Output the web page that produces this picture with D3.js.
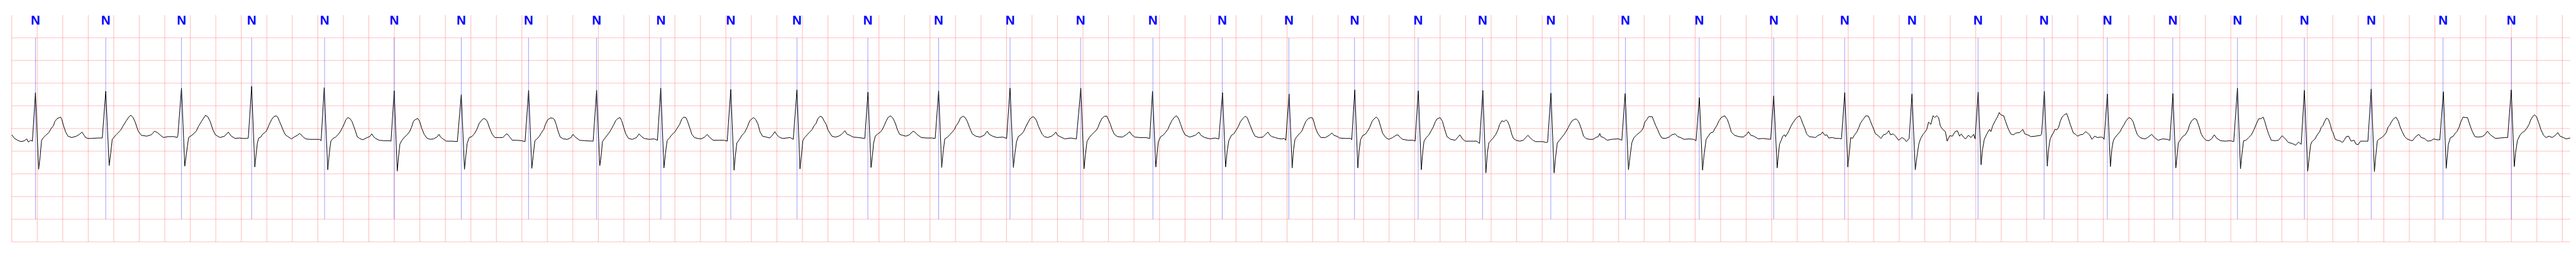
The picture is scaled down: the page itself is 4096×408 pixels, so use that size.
<!DOCTYPE html>
<html>
<head>
<meta charset="utf-8">
<script src="https://cdn.jsdelivr.net/npm/d3@7"></script>
<style>
html,body{margin:0;padding:0;background:#fff;overflow:hidden;}
svg{display:block;}
</style>
</head>
<body>
<svg id="chart" width="4096" height="408"></svg>
<script>
// ---- data (time in s, amplitude in mV) ----
const beatTimes = [0.186,0.737,1.331,1.881,2.453,2.999,3.525,4.052,4.586,5.090,5.638,6.157,6.713,7.268,7.828,8.381,8.948,9.492,10.014,10.529,11.028,11.533,12.068,12.653,13.232,13.816,14.372,14.900,15.418,15.936,16.432,16.945,17.452,17.977,18.501,19.064,19.600];
const beatLabels = beatTimes.map(() => "N");

const ecgT = [
0.000,0.022,0.052,0.076,0.100,0.118,0.130,0.148,0.162,0.186,0.211,0.222,0.234,0.249,0.267,0.291,0.309,0.327,0.339,0.357,0.383,0.393,0.405,0.423,0.441,0.471,0.507,0.531,0.551,0.567,0.579,0.597,0.627,0.674,0.710,
0.737,0.764,0.776,0.788,0.818,0.854,0.872,0.896,0.920,0.934,0.950,0.968,0.992,1.016,1.058,1.094,1.120,1.142,1.166,1.190,1.225,1.273,1.297,1.303,
1.331,1.357,1.371,1.387,1.417,1.447,1.465,1.489,1.519,1.537,1.555,1.579,1.597,1.633,1.669,1.698,1.722,1.752,1.786,1.812,1.839,1.855,
1.881,1.906,1.917,1.926,1.937,1.953,1.966,1.979,1.993,2.006,2.019,2.039,2.055,2.073,2.086,2.099,2.117,2.133,2.146,2.166,2.193,2.220,2.240,2.257,2.270,2.286,2.306,2.333,2.373,2.413,2.426,
2.450,2.478,2.490,2.502,2.520,2.540,2.560,2.576,2.593,2.607,2.620,2.636,2.651,2.667,2.680,2.693,2.709,2.727,2.753,2.787,2.807,2.823,2.837,2.853,2.880,2.920,2.960,2.974,
2.999,3.023,3.034,3.044,3.060,3.080,3.100,3.120,3.134,3.150,3.167,3.184,3.198,3.214,3.234,3.254,3.280,3.307,3.334,3.350,3.363,3.381,3.407,3.454,3.494,
3.525,3.550,3.561,3.571,3.587,3.607,3.627,3.647,3.665,3.681,3.701,3.718,3.731,3.748,3.768,3.788,3.821,3.851,3.878,3.889,3.905,3.925,3.958,3.998,4.025,
4.053,4.078,4.089,4.102,4.118,4.138,4.152,4.172,4.185,4.202,4.222,4.239,4.255,4.269,4.285,4.301,4.325,4.359,4.385,4.401,4.419,4.452,4.492,4.559,
4.586,4.611,4.622,4.632,4.652,4.672,4.690,4.706,4.722,4.735,4.752,4.770,4.783,4.799,4.815,4.836,4.866,4.899,4.919,4.935,4.959,4.999,5.039,5.063,
5.089,5.114,5.126,5.139,5.159,5.179,5.199,5.219,5.237,5.253,5.269,5.286,5.299,5.317,5.333,5.353,5.380,5.406,5.433,5.453,5.470,5.500,5.546,5.586,5.610,
5.638,5.664,5.674,5.686,5.706,5.726,5.746,5.766,5.787,5.803,5.817,5.833,5.851,5.867,5.887,5.917,5.944,5.964,5.984,5.997,6.017,6.044,6.077,6.104,6.128,
6.157,6.181,6.192,6.203,6.217,6.237,6.257,6.277,6.291,6.307,6.320,6.338,6.355,6.371,6.387,6.398,6.415,6.431,6.458,6.484,6.507,6.534,6.547,6.571,6.598,6.638,6.689,
6.714,6.738,6.749,6.758,6.771,6.791,6.811,6.825,6.841,6.854,6.871,6.891,6.911,6.929,6.945,6.962,6.985,7.011,7.038,7.068,7.082,7.098,7.132,7.172,7.212,7.241,
7.268,7.292,7.302,7.316,7.338,7.358,7.378,7.392,7.405,7.425,7.438,7.459,7.476,7.492,7.512,7.532,7.559,7.592,7.625,7.649,7.665,7.692,7.725,7.772,7.801,
7.828,7.854,7.866,7.879,7.892,7.912,7.932,7.952,7.970,7.987,8.006,8.020,8.036,8.049,8.065,8.080,8.098,8.123,8.153,8.172,8.187,8.200,8.227,8.258,8.301,8.348,
8.383,8.408,8.418,8.431,8.449,8.467,8.486,8.504,8.517,8.529,8.548,8.569,8.587,8.603,8.615,8.628,8.646,8.671,8.708,8.738,8.766,8.782,8.806,8.843,8.892,8.923,
8.945,8.971,8.981,8.991,9.009,9.028,9.046,9.065,9.077,9.096,9.114,9.133,9.149,9.166,9.182,9.200,9.237,9.281,9.308,9.324,9.354,9.397,9.434,9.465,
9.494,9.518,9.531,9.543,9.564,9.582,9.601,9.619,9.634,9.654,9.671,9.687,9.708,9.730,9.749,9.779,9.810,9.835,9.850,9.866,9.882,9.906,9.930,9.954,9.978,9.990,
10.016,10.040,10.050,10.062,10.080,10.098,10.116,10.131,10.148,10.167,10.184,10.200,10.211,10.223,10.241,10.265,10.301,10.331,10.352,10.367,10.397,10.409,10.457,10.499,10.507,
10.531,10.555,10.565,10.577,10.595,10.613,10.631,10.649,10.667,10.685,10.700,10.717,10.735,10.750,10.774,10.798,10.828,10.855,10.870,10.888,10.906,10.948,10.990,11.004,
11.029,11.053,11.065,11.074,11.092,11.110,11.128,11.146,11.161,11.176,11.200,11.218,11.236,11.254,11.283,11.319,11.337,11.355,11.373,11.397,11.439,11.487,11.509,
11.535,11.559,11.571,11.583,11.601,11.619,11.637,11.655,11.667,11.685,11.702,11.716,11.730,11.744,11.752,11.762,11.775,11.796,11.824,11.852,11.872,11.889,11.904,11.928,11.949,11.976,12.004,12.032,12.043,
12.069,12.094,12.105,12.119,12.136,12.156,12.173,12.187,12.205,12.219,12.235,12.253,12.267,12.284,12.295,12.309,12.325,12.343,12.371,12.399,12.420,12.441,12.452,12.461,12.482,12.510,12.544,12.586,12.600,12.625,
12.651,12.677,12.690,12.704,12.718,12.738,12.759,12.780,12.794,12.805,12.822,12.835,12.863,12.877,12.891,12.905,12.921,12.939,12.967,12.995,13.016,13.043,13.064,13.085,13.113,13.154,13.189,13.207,
13.233,13.258,13.269,13.286,13.300,13.320,13.341,13.355,13.369,13.387,13.404,13.431,13.452,13.466,13.484,13.508,13.542,13.577,13.604,13.618,13.636,13.660,13.695,13.729,13.764,13.792,
13.816,13.843,13.852,13.862,13.873,13.887,13.901,13.908,13.922,13.935,13.949,13.963,13.973,13.987,13.998,14.019,14.032,14.046,14.060,14.074,14.095,14.122,14.143,14.164,14.185,14.199,14.217,14.233,14.247,14.275,14.303,14.330,14.347,
14.373,14.397,14.408,14.420,14.434,14.448,14.469,14.483,14.497,14.517,14.538,14.559,14.573,14.587,14.598,14.614,14.632,14.656,14.677,14.698,14.718,14.732,14.753,14.774,14.795,14.822,14.843,14.857,14.878,
14.900,14.926,14.940,14.954,14.968,14.989,15.002,15.016,15.030,15.048,15.065,15.079,15.093,15.109,15.123,15.141,15.162,15.176,15.196,15.217,15.238,15.256,15.273,15.286,15.307,15.321,15.342,15.363,15.383,15.395,
15.419,15.442,15.453,15.467,15.487,15.508,15.519,15.533,15.553,15.571,15.584,15.598,15.619,15.633,15.654,15.674,15.695,15.716,15.744,15.769,15.785,15.806,15.834,15.868,15.910,15.917,
15.938,15.961,15.970,15.978,15.985,15.999,16.009,16.020,16.035,16.049,16.063,16.077,16.094,16.113,16.127,16.141,16.155,16.165,16.184,16.198,16.219,16.240,16.262,16.276,16.293,16.311,16.333,16.354,16.382,16.397,16.407,
16.432,16.456,16.468,16.478,16.489,16.510,16.532,16.546,16.560,16.577,16.600,16.617,16.634,16.652,16.666,16.688,16.709,16.730,16.752,16.780,16.801,16.830,16.865,16.901,16.922,
16.946,16.969,16.979,16.989,17.000,17.022,17.043,17.064,17.078,17.093,17.114,17.131,17.149,17.168,17.185,17.206,17.227,17.249,17.270,17.291,17.320,17.355,17.398,17.423,
17.452,17.476,17.486,17.500,17.519,17.540,17.561,17.583,17.600,17.618,17.639,17.654,17.668,17.682,17.696,17.717,17.746,17.774,17.803,17.824,17.852,17.881,17.909,17.930,17.952,
17.977,18.003,18.016,18.026,18.037,18.058,18.080,18.097,18.108,18.122,18.136,18.151,18.166,18.180,18.192,18.200,18.219,18.238,18.262,18.275,18.293,18.306,18.324,18.343,18.367,18.380,18.398,18.417,18.448,18.475,
18.501,18.526,18.537,18.549,18.565,18.584,18.603,18.619,18.633,18.646,18.658,18.673,18.695,18.714,18.726,18.742,18.763,18.782,18.807,18.825,18.850,18.875,18.893,18.918,18.943,18.968,18.992,19.017,19.039,
19.067,19.089,19.097,19.106,19.122,19.141,19.159,19.175,19.190,19.203,19.221,19.240,19.256,19.271,19.283,19.296,19.314,19.339,19.370,19.388,19.413,19.432,19.450,19.475,19.512,19.549,19.571,
19.599,19.623,19.633,19.648,19.667,19.685,19.704,19.722,19.739,19.750,19.766,19.782,19.797,19.815,19.831,19.852,19.871,19.896,19.920,19.945,19.964,19.982,20.007,20.032,20.061
];
const ecgV = [
-0.14,-0.22,-0.27,-0.29,-0.27,-0.23,-0.30,-0.26,-0.28,0.79,-0.90,-0.64,-0.26,-0.20,-0.15,-0.09,0.00,0.06,0.16,0.22,0.25,0.20,0.07,-0.08,-0.17,-0.20,-0.17,-0.13,-0.08,-0.15,-0.20,-0.22,-0.22,-0.21,-0.21,
0.82,-0.82,-0.55,-0.24,-0.14,-0.04,0.05,0.16,0.26,0.29,0.25,0.14,-0.06,-0.15,-0.17,-0.14,-0.06,-0.09,-0.15,-0.20,-0.18,-0.18,-0.20,-0.15,
0.89,-0.83,-0.53,-0.20,-0.14,-0.06,0.05,0.16,0.29,0.26,0.16,-0.04,-0.14,-0.20,-0.17,-0.08,-0.17,-0.22,-0.21,-0.22,-0.22,-0.21,
0.93,-0.85,-0.55,-0.32,-0.21,-0.19,-0.13,-0.10,-0.07,0.00,0.09,0.20,0.26,0.28,0.25,0.16,0.04,-0.07,-0.14,-0.18,-0.23,-0.18,-0.15,-0.11,-0.14,-0.19,-0.23,-0.24,-0.24,-0.24,-0.27,
0.90,-0.91,-0.55,-0.28,-0.22,-0.19,-0.13,-0.07,0.02,0.10,0.19,0.24,0.22,0.16,0.06,-0.04,-0.18,-0.22,-0.25,-0.20,-0.18,-0.12,-0.18,-0.22,-0.26,-0.27,-0.27,-0.28,
0.83,-0.94,-0.60,-0.34,-0.26,-0.19,-0.14,-0.07,0.02,0.16,0.20,0.22,0.16,0.01,-0.13,-0.21,-0.24,-0.23,-0.19,-0.13,-0.19,-0.23,-0.28,-0.28,-0.29,
0.75,-0.90,-0.60,-0.33,-0.20,-0.18,-0.12,-0.02,0.11,0.17,0.22,0.20,0.14,0.00,-0.13,-0.20,-0.20,-0.20,-0.12,-0.13,-0.19,-0.26,-0.26,-0.27,-0.29,
0.84,-0.88,-0.60,-0.27,-0.23,-0.17,-0.10,-0.02,0.09,0.19,0.23,0.23,0.20,0.09,-0.07,-0.19,-0.23,-0.24,-0.20,-0.13,-0.19,-0.26,-0.27,-0.28,
0.84,-0.82,-0.60,-0.29,-0.21,-0.14,-0.07,0.01,0.09,0.17,0.22,0.24,0.17,0.02,-0.12,-0.22,-0.24,-0.20,-0.12,-0.17,-0.22,-0.24,-0.23,-0.26,
0.89,-0.87,-0.55,-0.27,-0.20,-0.13,-0.08,0.01,0.09,0.20,0.25,0.24,0.16,0.01,-0.13,-0.20,-0.22,-0.23,-0.19,-0.13,-0.19,-0.26,-0.26,-0.26,-0.28,
0.86,-0.92,-0.60,-0.32,-0.24,-0.15,-0.09,0.02,0.17,0.21,0.24,0.20,0.10,-0.07,-0.17,-0.19,-0.21,-0.15,-0.07,-0.13,-0.19,-0.22,-0.21,-0.20,-0.24,
0.85,-0.89,-0.60,-0.27,-0.20,-0.14,-0.08,-0.02,0.06,0.11,0.21,0.27,0.25,0.16,0.09,-0.02,-0.10,-0.17,-0.19,-0.17,-0.13,-0.05,-0.12,-0.15,-0.19,-0.20,-0.22,
0.80,-0.86,-0.60,-0.32,-0.17,-0.12,-0.08,-0.03,0.06,0.15,0.24,0.28,0.22,0.11,-0.03,-0.13,-0.15,-0.17,-0.14,-0.06,-0.08,-0.13,-0.20,-0.21,-0.21,-0.22,
0.83,-0.86,-0.55,-0.23,-0.19,-0.13,-0.07,-0.02,0.06,0.14,0.23,0.27,0.24,0.16,0.01,-0.12,-0.17,-0.19,-0.15,-0.06,-0.13,-0.17,-0.20,-0.19,-0.22,
0.89,-0.86,-0.55,-0.29,-0.18,-0.14,-0.08,0.04,0.14,0.22,0.26,0.24,0.17,0.06,-0.04,-0.13,-0.18,-0.20,-0.17,-0.13,-0.08,-0.15,-0.19,-0.23,-0.21,-0.23,
0.89,-0.89,-0.60,-0.29,-0.20,-0.14,-0.09,-0.04,0.02,0.11,0.22,0.27,0.27,0.17,0.09,-0.02,-0.13,-0.18,-0.19,-0.14,-0.07,-0.14,-0.19,-0.20,-0.20,-0.22,
0.82,-0.85,-0.55,-0.29,-0.18,-0.15,-0.09,-0.02,0.06,0.17,0.24,0.28,0.22,0.09,-0.04,-0.14,-0.19,-0.15,-0.08,-0.15,-0.20,-0.23,-0.21,-0.23,
0.79,-0.85,-0.49,-0.27,-0.15,-0.12,-0.04,0.05,0.15,0.22,0.27,0.24,0.09,-0.07,-0.17,-0.20,-0.19,-0.12,-0.08,-0.15,-0.18,-0.20,-0.22,-0.23,-0.22,-0.26,
0.76,-0.87,-0.49,-0.24,-0.17,-0.11,-0.06,0.05,0.16,0.22,0.24,0.23,0.14,0.01,-0.11,-0.20,-0.20,-0.15,-0.10,-0.15,-0.18,-0.21,-0.22,-0.22,-0.25,
0.85,-0.87,-0.49,-0.24,-0.15,-0.13,-0.06,0.03,0.16,0.22,0.25,0.20,0.03,-0.11,-0.20,-0.24,-0.20,-0.15,-0.14,-0.20,-0.24,-0.26,-0.26,-0.28,
0.83,-0.91,-0.49,-0.28,-0.20,-0.15,-0.06,0.03,0.14,0.21,0.24,0.16,-0.02,-0.18,-0.24,-0.26,-0.20,-0.14,-0.22,-0.28,-0.28,-0.28,-0.33,
0.84,-0.98,-0.53,-0.31,-0.26,-0.20,-0.13,-0.02,0.09,0.17,0.15,0.19,0.15,0.06,-0.02,-0.13,-0.22,-0.26,-0.28,-0.26,-0.20,-0.15,-0.20,-0.26,-0.29,-0.29,-0.29,-0.31,-0.30,
0.78,-0.98,-0.65,-0.32,-0.26,-0.19,-0.13,-0.07,0.02,0.10,0.17,0.20,0.21,0.16,0.09,-0.02,-0.17,-0.22,-0.24,-0.24,-0.20,-0.18,-0.11,-0.18,-0.20,-0.26,-0.24,-0.23,-0.23,-0.26,
0.77,-0.91,-0.60,-0.31,-0.21,-0.15,-0.10,-0.05,0.02,0.14,0.20,0.26,0.26,0.16,0.06,-0.02,-0.13,-0.21,-0.22,-0.19,-0.14,-0.12,-0.18,-0.20,-0.24,-0.23,-0.24,-0.27,
0.68,-0.92,-0.60,-0.24,-0.18,-0.10,-0.08,0.00,0.06,0.17,0.24,0.28,0.20,0.09,-0.08,-0.15,-0.18,-0.19,-0.13,-0.07,-0.15,-0.17,-0.23,-0.22,-0.23,-0.24,
0.72,-0.87,-0.60,-0.34,-0.27,-0.17,-0.14,-0.18,-0.12,-0.05,0.04,0.11,0.15,0.21,0.24,0.28,0.20,0.09,0.00,-0.12,-0.18,-0.19,-0.20,-0.15,-0.13,-0.08,-0.15,-0.14,-0.21,-0.20,-0.22,-0.22,-0.23,
0.79,-0.85,-0.55,-0.20,-0.22,-0.15,-0.07,0.02,0.12,0.20,0.28,0.27,0.17,0.07,0.00,-0.12,-0.15,-0.22,-0.14,-0.12,-0.05,-0.14,-0.12,-0.18,-0.26,-0.20,-0.24,-0.29,-0.22,
0.76,-0.91,-0.60,-0.34,-0.22,-0.12,-0.08,-0.02,0.14,0.09,0.28,0.24,0.28,0.24,0.05,-0.02,-0.07,-0.28,-0.16,-0.17,-0.07,-0.05,-0.17,-0.12,-0.20,-0.23,-0.15,-0.20,-0.13,-0.23,
0.80,-0.80,-0.47,-0.24,-0.12,-0.02,-0.07,0.06,0.17,0.26,0.35,0.30,0.28,0.16,0.00,-0.12,-0.14,-0.10,-0.09,-0.02,-0.12,-0.14,-0.18,-0.17,-0.15,-0.12,
0.82,-0.83,-0.50,-0.32,-0.22,-0.14,-0.10,-0.02,-0.03,0.02,0.16,0.25,0.30,0.33,0.22,0.09,-0.02,-0.10,-0.13,-0.17,-0.14,-0.13,-0.07,-0.10,-0.14,-0.24,-0.17,-0.20,-0.19,-0.20,-0.24,
0.76,-0.84,-0.44,-0.28,-0.21,-0.14,-0.07,0.01,0.07,0.16,0.24,0.22,0.15,-0.02,-0.13,-0.20,-0.22,-0.23,-0.19,-0.13,-0.20,-0.26,-0.23,-0.24,-0.26,
0.77,-0.87,-0.60,-0.31,-0.27,-0.18,-0.14,-0.04,0.09,0.17,0.22,0.20,0.06,-0.12,-0.20,-0.26,-0.27,-0.23,-0.14,-0.22,-0.27,-0.28,-0.27,-0.29,
0.89,-0.89,-0.60,-0.27,-0.26,-0.20,-0.14,-0.02,0.10,0.21,0.22,0.25,0.14,0.00,-0.12,-0.26,-0.27,-0.26,-0.16,-0.22,-0.31,-0.33,-0.37,-0.30,-0.35,
0.84,-0.94,-0.60,-0.36,-0.29,-0.24,-0.13,-0.07,0.02,0.06,0.16,0.23,0.20,0.09,-0.05,-0.08,-0.24,-0.26,-0.28,-0.31,-0.24,-0.18,-0.17,-0.28,-0.26,-0.34,-0.36,-0.28,-0.28,-0.28,
0.87,-0.95,-0.60,-0.27,-0.23,-0.20,-0.15,-0.09,0.03,0.07,0.14,0.20,0.25,0.16,0.05,-0.06,-0.18,-0.23,-0.26,-0.27,-0.18,-0.13,-0.20,-0.22,-0.28,-0.27,-0.23,-0.25,-0.25,
0.81,-0.88,-0.64,-0.35,-0.20,-0.18,-0.11,-0.06,0.03,0.14,0.25,0.24,0.24,0.11,0.01,-0.08,-0.18,-0.19,-0.18,-0.15,-0.06,-0.13,-0.17,-0.22,-0.21,-0.20,-0.20,
0.85,-0.84,-0.53,-0.26,-0.15,-0.09,-0.06,0.01,0.09,0.18,0.26,0.30,0.26,0.12,-0.02,-0.15,-0.20,-0.17,-0.20,-0.15,-0.09,-0.17,-0.20,-0.23,-0.21
];

// grid values
const yGridValues = [-2.5,-2.0,-1.5,-1.0,-0.5,0.0,0.5,1.0,1.5,2.0];
const xGridStep = 0.2;     // s
const xDomain = [0, 20.06];
const yDomain = [-2.5, 2.5];
const annRange = [-2.0, 2.0];

// ---- drawing ----
const S = 0.544;
const svg = d3.select("#chart");
const x = d3.scaleLinear().domain(xDomain).range([34.3 * S, 7512 * S]);
const y = d3.scaleLinear().domain(yDomain).range([705.8 * S, 44 * S]);

const xGridValues = d3.range(0, 20.0001, xGridStep);

const grid = svg.append("g").attr("stroke", "red").attr("stroke-opacity", 0.25).attr("stroke-width", 1.1);
grid.selectAll("line.v").data(xGridValues).join("line")
  .attr("class", "v")
  .attr("x1", d => x(d)).attr("x2", d => x(d))
  .attr("y1", y(yDomain[1])).attr("y2", y(yDomain[0]));
grid.selectAll("line.h").data(yGridValues).join("line")
  .attr("class", "h")
  .attr("x1", x(xDomain[0])).attr("x2", x(xDomain[1]))
  .attr("y1", d => y(d)).attr("y2", d => y(d));

// annotation lines
const ann = svg.append("g");
ann.selectAll("line").data(beatTimes).join("line")
  .attr("x1", d => x(d)).attr("x2", d => x(d))
  .attr("y1", y(annRange[1])).attr("y2", y(annRange[0]))
  .attr("stroke", "#0000ff").attr("stroke-opacity", 0.55).attr("stroke-width", 0.7);

ann.selectAll("text").data(beatTimes).join("text")
  .attr("x", d => x(d))
  .attr("y", y(yDomain[1]) + 14.7)
  .attr("text-anchor", "middle")
  .attr("font-family", "'Liberation Sans', Arial, sans-serif")
  .attr("font-weight", "bold")
  .attr("font-size", 20.5)
  .attr("fill", "#0000ff")
  .text((d, i) => beatLabels[i]);

// ECG trace
const pts = ecgT.map((t, i) => [t, ecgV[i]]);
const line = d3.line().x(d => x(d[0])).y(d => y(d[1]));
svg.append("path")
  .datum(pts)
  .attr("d", line)
  .attr("fill", "none")
  .attr("stroke", "#000")
  .attr("stroke-width", 1.0)
  .attr("stroke-linejoin", "round");
</script>
</body>
</html>
